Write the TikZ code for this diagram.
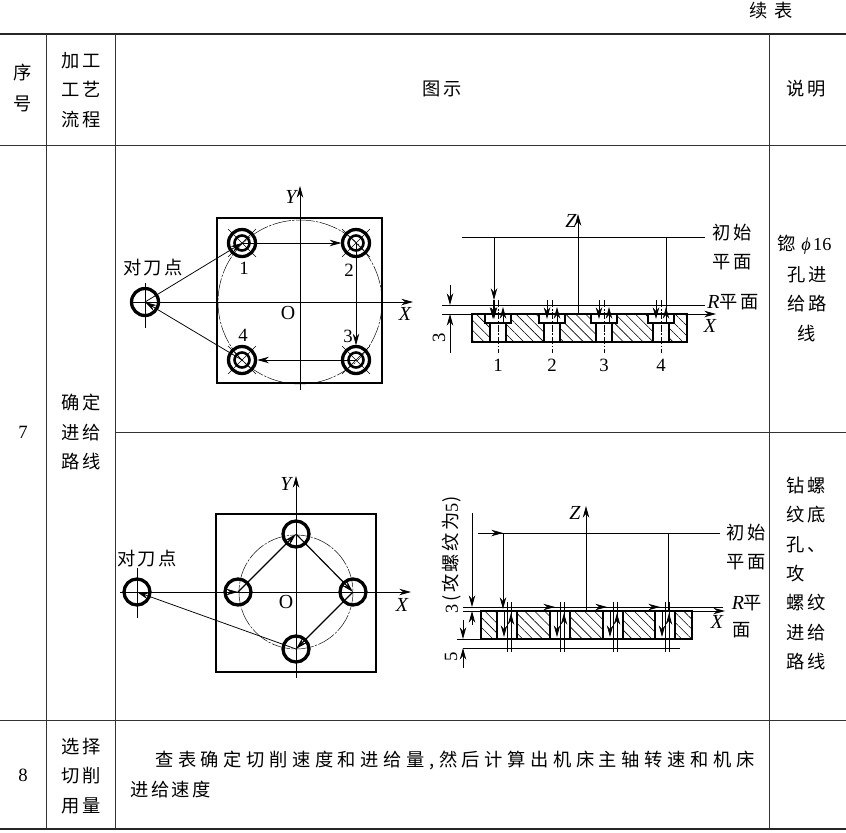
\documentclass[tikz,border=0pt]{standalone}
\usepackage{fontspec}
\setmainfont{Liberation Serif}
\newfontfamily\cjk[LetterSpace=14]{Noto Sans CJK SC}
\newfontfamily\cjkwide[LetterSpace=25]{Noto Sans CJK SC}
\newcommand{\latin}[1]{{\normalfont #1}}
\newcommand{\latinit}[1]{{\normalfont\fontsize{17}{19}\selectfont\itshape #1}}
\usetikzlibrary{arrows.meta,patterns.meta}
\tikzset{
  tablerule/.style={line width=0.65pt, black!80},
  heavyrule/.style={line width=2.1pt, black!85},
  thinline/.style={line width=0.65pt},
  partline/.style={line width=2.5pt},
  circleline/.style={line width=2.8pt},
  innerline/.style={line width=2.2pt},
  pitchline/.style={line width=0.4pt, dash pattern=on 16pt off 1.2pt on 2pt off 1.2pt},
  cutline/.style={line width=0.5pt, dash pattern=on 6pt off 1.5pt on 1.5pt off 1.5pt},
  hatchfill/.style={pattern={Lines[angle=-45,distance=6pt,line width=0.5pt]}},
  head/.style={-{Stealth[length=10pt,width=5.5pt]}},
  txt/.style={inner sep=0pt, font=\cjk\fontsize{15.6}{18}\selectfont, align=center},
  lab/.style={inner sep=0pt, font=\fontsize{16}{18}\selectfont},
  itlab/.style={inner sep=0pt, font=\fontsize{17}{19}\selectfont\itshape}
}
\begin{document}
\begin{tikzpicture}[x=0.03cm, y=-0.03cm]
  \useasboundingbox (0,0) rectangle (846,832);

  % table
  \draw [heavyrule] (0,34) -- (846,34);
  \draw [heavyrule] (0,829) -- (846,829);
  \draw [tablerule] (0,145) -- (846,145);
  \draw [tablerule] (115,432) -- (846,432);
  \draw [tablerule] (0,720) -- (846,720);
  \draw [tablerule] (46,34) -- (46,829);
  \draw [tablerule] (115,34) -- (115,829);
  \draw [tablerule] (769,34) -- (769,829);

  \node [txt] (more) at (771,11) {续\hspace{6pt}表};
  \node [txt] (headno) at (23,88) {序\\[9pt]号};
  \node [txt] (headstep) at (81,90) {加工\\[7pt]工艺\\[7pt]流程};
  \node [txt] (headfig) at (442,89) {图示};
  \node [txt] (headnote) at (806,89) {说明};
  \node [lab] (no7) at (23,432) {7};
  \node [lab] (no8) at (23,775) {8};
  \node [txt] (step7) at (81,432) {确定\\[7pt]进给\\[7pt]路线};
  \node [txt] (step8) at (81,776) {选择\\[7pt]切削\\[7pt]用量};
  \node [txt, anchor=west, font=\cjkwide\fontsize{15.6}{18}\selectfont] (amount1) at (155,760) {查表确定切削速度和进给量,然后计算出机床主轴转速和机床};
  \node [txt, anchor=west] (amount2) at (130,790) {进给速度};
  \node [txt, anchor=west] (notephi) at (777,245) {锪\hspace{5pt}{\normalfont\itshape ϕ}\hspace{2pt}\latin{16}};
  \node [txt] (note1) at (807,304) {孔进\\[7pt]给路\\[7pt]线};
  \node [txt, align=left, anchor=north west] (note2) at (786,477) {钻螺\\[7pt]纹底\\[7pt]孔、\\[7pt]攻\\[7pt]螺纹\\[7pt]进给\\[7pt]路线};

  % upper plan view
  \coordinate (tool) at (145,302);
  \coordinate (hole1) at (242,243);
  \coordinate (hole2) at (356,243);
  \coordinate (hole3) at (356,360);
  \coordinate (hole4) at (242,360);
  \coordinate (org) at (300,302);
  \draw [partline] (217,218) rectangle (382,383);
  \draw [pitchline] (org) circle [radius=82];
  \draw [thinline] (130,302) -- (400,302);
  \draw [thinline, head] (400,302) -- (413,302);
  \draw [thinline, head] (300,390) -- (300,186);
  \draw [thinline] (145,283) -- (145,328);
  \foreach \h in {hole1,hole2,hole3,hole4} {
    \draw [circleline] (\h) circle [radius=13.5];
    \draw [innerline] (\h) circle [radius=7.5];
    \draw [line width=0.4pt] (\h) ++(-14,-14) -- ++(28,28);
    \draw [line width=0.4pt] (\h) ++(14,-14) -- ++(-28,28);
  }
  \draw [circleline] (tool) circle [radius=13.5];
  \draw [thinline, head] (tool) -- (hole1);
  \draw [thinline, head, shorten >=12.5pt] (hole1) -- (hole2);
  \draw [thinline, head, shorten >=12.5pt] (hole2) -- (hole3);
  \draw [thinline, head, shorten >=13pt] (hole3) -- (hole4);
  \draw [thinline, head] (hole4) -- (tool);
  \node [txt] (toollabel1) at (153,268) {对刀点};
  \node [lab] (num1) at (244,268) {1};
  \node [lab] (num2) at (349,270) {2};
  \node [lab] (num3) at (348,336) {3};
  \node [lab] (num4) at (243,335) {4};
  \node [lab, font=\fontsize{17}{19}\selectfont] (orglabel1) at (288,313) {O};
  \node [itlab] (ylabel1) at (291,197) {Y};
  \node [itlab] (xlabel1) at (405,314) {X};

  % upper section
  \draw [partline, hatchfill] (472,314) rectangle (687,342);
  \foreach \n/\cx in {1/498,2/552,3/604,4/661} {
    \draw [partline, fill=white] (\cx-13,314) rectangle (\cx+13,323);
    \draw [partline, fill=white] (\cx-8,323) rectangle (\cx+8,342);
    \draw [cutline] (\cx,300) -- (\cx,353);
    \draw [thinline, head] (\cx-5,300) -- (\cx-5,319);
    \draw [thinline, head] (\cx+5,323) -- (\cx+5,307);
    \node [lab] (sec\n) at (\cx,365) {\n};
  }
  \coordinate (initA) at (462,237);
  \coordinate (initB) at (705,237);
  \draw [thinline] (initA) -- (initB);
  \draw [thinline] (442,305) -- (705,305);
  \draw [thinline] (442,314) -- (703,314);
  \draw [thinline, head] (703,314) -- (716,314);
  \draw [thinline, head] (578,314) -- (578,214);
  \draw [thinline, head] (494,237) -- (494,300);
  \draw [thinline, head] (494,300) -- (494,319);
  \draw [thinline] (666,237) -- (666,310);
  \draw [thinline, head] (450,285) -- (450,305);
  \draw [thinline, head] (450,353) -- (450,314);
  \node [lab, rotate=90] (dim3) at (439,338) {3};
  \node [itlab] (zlabel1) at (571,221) {Z};
  \node [txt] (init1) at (732,247) {初始\\[6pt]平面};
  \node [txt] (rplane1) at (733,302) {\latinit{R}平面};
  \node [itlab] (xlabel2) at (710,326) {X};

  % lower plan view
  \coordinate (tool2) at (137,592);
  \coordinate (top) at (296,534);
  \coordinate (left) at (238,592);
  \coordinate (right) at (353,592);
  \coordinate (bottom) at (296,649);
  \coordinate (org2) at (296,592);
  \draw [partline] (216,514) rectangle (376,672);
  \draw [pitchline] (org2) circle [radius=57];
  \draw [thinline] (120,592) -- (398,592);
  \draw [thinline, head] (398,592) -- (411,592);
  \draw [thinline, head] (296,678) -- (296,476);
  \draw [thinline] (137,568) -- (137,618);
  \foreach \h in {top,left,right,bottom} {
    \draw [circleline] (\h) circle [radius=13];
  }
  \draw [circleline] (tool2) circle [radius=13];
  \draw [line width=1pt, head] (left) -- (top);
  \draw [line width=1pt, head] (top) -- (right);
  \draw [line width=1pt, head] (right) -- (bottom);
  \draw [thinline, head] (bottom) -- (tool2);
  \draw [thinline, head] (226,592) -- (left);
  \node [txt] (toollabel2) at (147,559) {对刀点};
  \node [lab, font=\fontsize{17}{19}\selectfont] (orglabel2) at (286,602) {O};
  \node [itlab] (ylabel2) at (286,484) {Y};
  \node [itlab] (xlabel3) at (402,605) {X};

  % lower section
  \draw [partline, hatchfill] (481,611) rectangle (692,639);
  \foreach \cx in {507,560,613,665} {
    \draw [partline, fill=white] (\cx-10,611) rectangle (\cx+10,639);
    \draw [thinline] (\cx,602) -- (\cx,652);
    \draw [thinline] (\cx+4,602) -- (\cx+4,652);
    \draw [thinline, head] (\cx-3,611) -- (\cx-3,637);
    \draw [thinline, head] (\cx+4,639) -- (\cx+4,613);
  }
  \foreach \cx in {555,607,660} {
    \draw [thinline, head] (\cx-14,607) -- (\cx,607);
  }
  \coordinate (initC) at (478,533);
  \coordinate (initD) at (720,533);
  \draw [thinline] (initC) -- (initD);
  \draw [thinline, head] (490,533) -- (503,533);
  \draw [thinline, head] (503,533) -- (503,609);
  \draw [thinline] (668,533) -- (668,611);
  \draw [thinline, head] (586,611) -- (586,506);
  \draw [thinline] (463,607) -- (723,607);
  \draw [thinline] (463,611) -- (712,611);
  \draw [thinline, head] (712,611) -- (725,611);
  \draw [thinline] (457,639) -- (481,639);
  \draw [thinline] (463,648) -- (680,648);
  \draw [thinline, head] (472,513) -- (472,607);
  \draw [thinline, head] (472,625) -- (472,611);
  \draw [thinline, head] (463,620) -- (463,639);
  \draw [thinline, head] (463,668) -- (463,648);
  \node [txt, rotate=90, anchor=west] (dimthread) at (452,614) {\latin{3}\,(攻螺纹为\latin{5})};
  \node [lab, rotate=90] (dim5) at (451,657) {5};
  \node [itlab] (zlabel2) at (575,513) {Z};
  \node [txt] (init2) at (746,547) {初始\\[6pt]平面};
  \node [txt] (rplane2) at (747,603) {\latinit{R}平};
  \node [txt] (rplane3) at (742,630) {面};
  \node [itlab] (xlabel4) at (717,622) {X};
\end{tikzpicture}
\end{document}
